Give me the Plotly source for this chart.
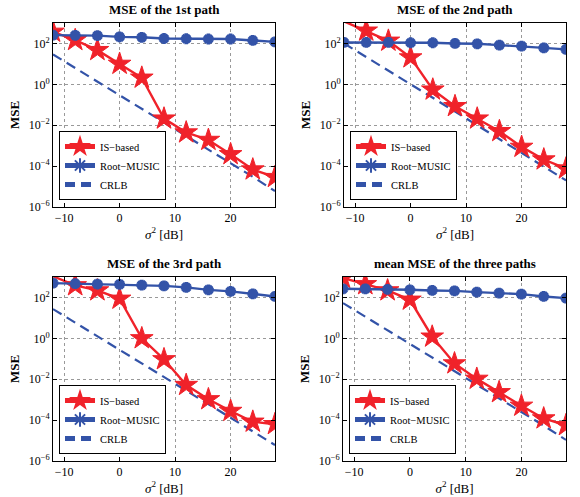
import plotly.graph_objects as go

# ---------------- data ----------------
x_db = [-12, -8, -4, 0, 4, 8, 12, 16, 20, 24, 28]

is_1st = [370, 145, 47, 10, 2.1, 0.021, 0.0044, 0.0019, 3.8e-4, 6.8e-5, 2.9e-5]
rm_1st = [255, 250, 240, 210, 200, 175, 170, 165, 165, 140, 120]
crlb_1st = [29, 6.3, 1.4, 0.3, 0.065, 0.014, 0.003, 6.5e-4, 1.4e-4, 3e-5, 6e-6]

is_2nd = [1200, 420, 135, 20.6, 0.55, 0.085, 0.021, 0.0051, 8.7e-4, 2.1e-4, 7.6e-5]
rm_2nd = [112, 112, 112, 108, 108, 100, 96, 83, 74, 61, 51]
crlb_2nd = [100, 21, 4.7, 1.0, 0.22, 0.047, 0.010, 0.0022, 4.7e-4, 1.0e-4, 2.0e-5]

is_3rd = [1080, 390, 220, 86, 1.0, 0.094, 0.0052, 0.00104, 2.8e-4, 8.3e-5, 6.3e-5]
rm_3rd = [500, 470, 450, 435, 400, 370, 310, 235, 197, 150, 112]
crlb_3rd = [27, 5.9, 1.3, 0.27, 0.06, 0.013, 0.0028, 6e-4, 1.3e-4, 2.8e-5, 6e-6]

is_mean = [890, 440, 220, 77, 1.2, 0.059, 0.0104, 0.0023, 5e-4, 1.2e-4, 5.6e-5]
rm_mean = [265, 260, 250, 237, 220, 210, 182, 163, 145, 112, 93]
crlb_mean = [53, 11.5, 2.5, 0.54, 0.116, 0.025, 0.0054, 0.00116, 2.5e-4, 5.4e-5, 1.07e-5]

titles = ["MSE of the 1st path", "MSE of the 2nd path",
          "MSE of the 3rd path", "mean MSE of the three paths"]
series_names = ["IS\u2212based", "Root\u2212MUSIC", "CRLB"]
x_tick_vals = [-10, 0, 10, 20]
y_tick_vals = [1e-6, 1e-4, 1e-2, 1e0, 1e2]
y_tick_text = ["10<sup>\u22126</sup>", "10<sup>\u22124</sup>", "10<sup>\u22122</sup>",
               "10<sup>0</sup>", "10<sup>2</sup>"]

panels = [(is_1st, rm_1st, crlb_1st), (is_2nd, rm_2nd, crlb_2nd),
          (is_3rd, rm_3rd, crlb_3rd), (is_mean, rm_mean, crlb_mean)]

# ---------------- layout geometry ----------------
W, H = 580, 497
x_domains = [(53, 275), (344, 566), (53, 275), (343, 566)]
y_domains = [(23, 207), (23, 207), (277, 461), (277, 461)]
Y_MAX = 1000

RED = "#f0222a"
BLUE = "#3353a8"
FONT = "Liberation Serif, Times New Roman, serif"

fig = go.Figure()
annotations = []
layout_axes = {}

for i, (is_v, rm_v, crlb_v) in enumerate(panels):
    n = i + 1
    xa = "x" if n == 1 else f"x{n}"
    ya = "y" if n == 1 else f"y{n}"
    lg = "legend" if n == 1 else f"legend{n}"

    fig.add_trace(go.Scatter(
        x=x_db, y=crlb_v, mode="lines", name=series_names[2],
        line=dict(color=BLUE, width=2.2, dash="10px,6px"),
        xaxis=xa, yaxis=ya, legend=lg, legendrank=3))
    fig.add_trace(go.Scatter(
        x=x_db, y=is_v, mode="lines+markers", name=series_names[0],
        line=dict(color=RED, width=2.4),
        marker=dict(symbol="star", size=[0 if v > Y_MAX else 17 for v in is_v],
                    color=RED, opacity=1, line=dict(width=1, color=RED)),
        xaxis=xa, yaxis=ya, legend=lg, legendrank=1))
    fig.add_trace(go.Scatter(
        x=x_db, y=rm_v, mode="lines+markers", name=series_names[1],
        line=dict(color=BLUE, width=2.4),
        marker=dict(symbol="asterisk-open", size=9,
                    color=BLUE, line=dict(width=3.6, color=BLUE)),
        xaxis=xa, yaxis=ya, legend=lg, legendrank=2))

    x0, x1 = x_domains[i]
    yt, yb = y_domains[i]
    axis_common = dict(showline=True, linecolor="black", linewidth=1, mirror="ticks",
                       ticks="inside", ticklen=4, tickcolor="black", automargin=False,
                       showgrid=True, gridcolor="#999999", griddash="dot", gridwidth=1,
                       zeroline=False, tickfont=dict(family=FONT, size=12, color="black"))
    layout_axes[("xaxis" if n == 1 else f"xaxis{n}")] = dict(
        domain=[x0 / W, x1 / W], range=[-12, 28], tickvals=x_tick_vals,
        anchor=ya, title=dict(text="<i>\u03c3</i><sup>2</sup> [dB]",
                              font=dict(family=FONT, size=13, color="black"), standoff=0),
        **axis_common)
    layout_axes[("yaxis" if n == 1 else f"yaxis{n}")] = dict(
        domain=[1 - yb / H, 1 - yt / H], type="log", range=[-6, 3],
        tickvals=y_tick_vals, ticktext=y_tick_text, anchor=xa,
        title=dict(text="<b>MSE</b>", font=dict(family=FONT, size=13, color="black"), standoff=6),
        **axis_common)

    layout_axes[lg] = dict(
        x=(x0 + 6) / W, y=1 - (yb - 7) / H, xanchor="left", yanchor="bottom",
        bgcolor="white", bordercolor="black", borderwidth=1,
        font=dict(family=FONT, size=10.5, color="black"),
        tracegroupgap=0, itemwidth=30, itemsizing="constant")

    annotations.append(dict(
        text=f"<b>{titles[i]}</b>", x=(x0 + x1) / 2 / W, y=1 - (yt - 4) / H,
        xref="paper", yref="paper", xanchor="center", yanchor="bottom",
        showarrow=False, font=dict(family=FONT, size=13, color="black")))

fig.update_layout(
    width=W, height=H, margin=dict(l=0, r=0, t=0, b=0, autoexpand=False),
    paper_bgcolor="white", plot_bgcolor="white",
    annotations=annotations, showlegend=True,
    font=dict(family=FONT, color="black"),
    **layout_axes)

fig.write_html("out.html", config={"displayModeBar": False},
               post_script="document.body.style.margin='0px';document.body.style.overflow='hidden';")
